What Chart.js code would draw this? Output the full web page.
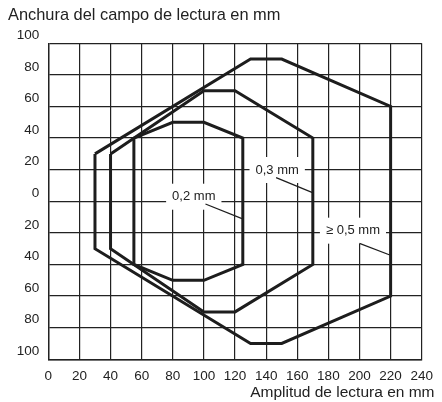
<!DOCTYPE html>
<html><head><meta charset="utf-8">
<script src="https://cdn.jsdelivr.net/npm/chart.js@4/dist/chart.umd.min.js"></script>
<style>html,body{margin:0;padding:0;background:#fff}#wrap{width:442px;height:402px;position:relative}</style>
</head><body><div id="wrap"><canvas id="c"></canvas></div>
<script>
// ---- data ----
const xTicks = [0,20,40,60,80,100,120,140,160,180,200,220,240];
const yTicks = [100,80,60,40,20,0,-20,-40,-60,-80,-100];
// 0,2 mm field outline (reading distance, field width)
const res02X = [55,80,100,125,125,100,80,55,55];
const res02Y = [40,50,50,40,-40,-50,-50,-40,40];
// 0,3 mm
const res03X = [40,100,120,170,170,120,100,40,40];
const res03Y = [30,70,70,40,-40,-70,-70,-30,30];
// >= 0,5 mm
const res05X = [30,130,150,220,220,150,130,30,30];
const res05Y = [30,90,90,60,-60,-90,-90,-30,30];
// labels and leader lines (data coordinates)
const labelTexts = ['0,2 mm','0,3 mm','\u2265 0,5 mm'];
const labelX = [93.5,147.1,195.8];
const labelY = [2.9,19.8,-18.6];
const leader02X = [101,124.5], leader02Y = [-1.7,-11];
const leader03X = [146.4,169.8], leader03Y = [15,5.5];
const leader05X = [200,219.5], leader05Y = [-26.6,-34];
const yTitle = 'Anchura del campo de lectura en mm';
const xTitle = 'Amplitud de lectura en mm';

const pts = (xs, ys) => xs.map((x,i)=>({x, y: ys[i]}));
const INK = '#1d1d1d';
const FONT = "'Liberation Sans', Arial, Helvetica, sans-serif";

const shape = (xs, ys) => ({data: pts(xs, ys), borderColor: INK, borderWidth: 3, pointRadius: 0, fill: false, tension: 0, borderJoinStyle: 'miter'});
const leader = (xs, ys) => ({data: pts(xs, ys), borderColor: INK, borderWidth: 1.2, pointRadius: 0, fill: false});

const labelPlugin = {
  id: 'labels',
  beforeDatasetsDraw(chart) {
    const {ctx, scales: {x, y}} = chart;
    ctx.save();
    ctx.font = '13px ' + FONT;
    labelTexts.forEach((t, i) => {
      const w = ctx.measureText(t).width;
      const cx = x.getPixelForValue(labelX[i]), cy = y.getPixelForValue(labelY[i]);
      ctx.fillStyle = '#fff';
      ctx.fillRect(cx - w/2 - 6, cy - 13, w + 12, 26);
    });
    ctx.restore();
  },
  afterDatasetsDraw(chart) {
    const {ctx, scales: {x, y}} = chart;
    ctx.save();
    ctx.font = '13px ' + FONT;
    ctx.fillStyle = '#222';
    ctx.textAlign = 'center';
    ctx.textBaseline = 'middle';
    labelTexts.forEach((t, i) => {
      ctx.fillText(t, x.getPixelForValue(labelX[i]), y.getPixelForValue(labelY[i]));
    });
    // x axis title
    ctx.font = '15.5px ' + FONT;
    ctx.textAlign = 'right';
    ctx.fillText(xTitle, 434.5, 393);
    ctx.restore();
  }
};

new Chart(document.getElementById('c'), {
  type: 'line',
  data: {
    datasets: [
      shape(res05X, res05Y), shape(res03X, res03Y), shape(res02X, res02Y),
      leader(leader02X, leader02Y), leader(leader03X, leader03Y), leader(leader05X, leader05Y)
    ]
  },
  options: {
    responsive: true, maintainAspectRatio: false, animation: false,
    layout: {padding: {left: 8, right: 14.3, top: 0, bottom: 0}},
    plugins: {
      legend: {display: false}, tooltip: {enabled: false},
      title: {display: true, text: yTitle, align: 'start', color: '#222',
        font: {family: FONT, size: 16.4, weight: 'normal'}, padding: {top: 5.7, bottom: 17.9}}
    },
    scales: {
      x: {
        type: 'linear', min: 0, max: 240,
        afterBuildTicks: s => { s.ticks = xTicks.map(v => ({value: v})); },
        afterFit: s => { s.height = 42.7; },
        grid: {color: '#222', lineWidth: 1.2, drawTicks: false},
        border: {color: '#222', width: 1.4},
        ticks: {color: '#222', padding: 9, maxRotation: 0, autoSkip: false, font: {family: FONT, size: 13.5}}
      },
      y: {
        type: 'linear', min: -100, max: 100,
        afterBuildTicks: s => { s.ticks = yTicks.slice().reverse().map(v => ({value: v})); },
        afterFit: s => { s.width = 40.3; },
        grid: {color: '#222', lineWidth: 1.2, drawTicks: false},
        border: {color: '#222', width: 1.4},
        ticks: {color: '#222', padding: 9, labelOffset: -8, autoSkip: false,
          font: {family: FONT, size: 13.5}, callback: v => String(Math.abs(v))}
      }
    }
  },
  plugins: [labelPlugin]
});
</script></body></html>
